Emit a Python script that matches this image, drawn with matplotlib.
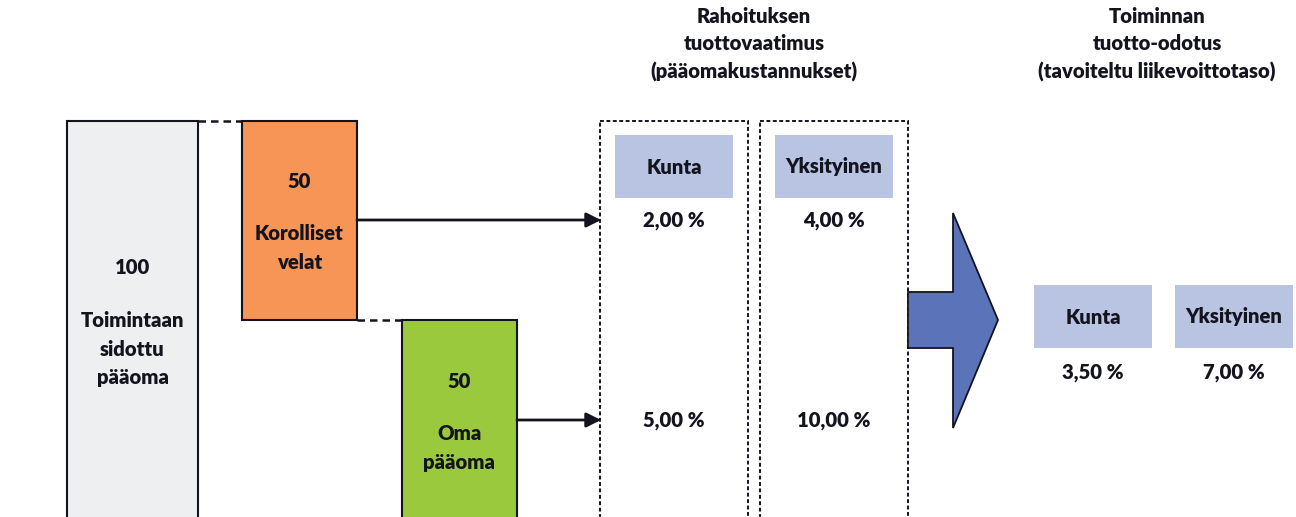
import matplotlib.pyplot as plt
from matplotlib.patches import Rectangle, Polygon

# data
categories = ["Kunta", "Yksityinen"]
debt_cost = [2.00, 4.00]          # korolliset velat
equity_cost = [5.00, 10.00]       # oma pääoma
target_return = [3.50, 7.00]      # tavoiteltu liikevoittotaso
capital_total = 100
capital_debt = 50
capital_equity = 50

plt.rcParams['font.family'] = ['Lato', 'DejaVu Sans']
TXT = '#14141f'
FS = 14.6


def pct(v):
    return f"{v:.2f}".replace(".", ",") + " %"


fig = plt.figure(figsize=(12.96, 5.17), dpi=100)
ax = fig.add_axes([0, 0, 1, 1])
ax.set_xlim(0, 1296)
ax.set_ylim(517, 0)
ax.axis('off')

scale = 3.98   # px per capital unit
top = 121

# capital bars
ax.bar(132.5, capital_total * scale, width=131, bottom=top, color='#eeeff1',
       edgecolor='#14141f', linewidth=1.5)
ax.bar(299.5, capital_debt * scale, width=115, bottom=top, color='#f79557',
       edgecolor='#14141f', linewidth=1.5)
eq_top = top + capital_debt * scale
ax.bar(459.5, capital_equity * scale, width=115, bottom=eq_top, color='#9bc93e',
       edgecolor='#14141f', linewidth=1.5)

kw = dict(ha='center', va='center', fontsize=FS, fontweight='heavy', color=TXT,
          linespacing=1.6)
ax.text(132.5, 267, str(capital_total), **kw)
ax.text(132.5, 349, "Toimintaan\nsidottu\npääoma", **kw)
ax.text(299.5, 182, str(capital_debt), **kw)
ax.text(299.5, 248, "Korolliset\nvelat", **kw)
ax.text(459.5, 381, str(capital_equity), **kw)
ax.text(459.5, 448, "Oma\npääoma", **kw)

# dashed connectors
ax.plot([198, 242], [top, top], color=TXT, lw=1.8, ls=(0, (3, 2)))
ax.plot([357, 402], [eq_top, eq_top], color=TXT, lw=1.8, ls=(0, (3, 2)))

# arrows to the cost columns
for y0, x0 in [(220, 357), (420, 517)]:
    ax.annotate('', xy=(601, y0), xytext=(x0, y0),
                arrowprops=dict(arrowstyle='-|>', color=TXT, lw=2,
                                mutation_scale=22, shrinkA=0, shrinkB=0))

# dashed cost columns
col_x = [600, 760]
for i, x in enumerate(col_x):
    ax.add_patch(Rectangle((x, 121), 148, 420, fill=False, edgecolor=TXT,
                           lw=1.4, ls=(0, (2, 1.3))))
    ax.add_patch(Rectangle((x + 15, 135), 118, 63, facecolor='#b9c4e2',
                           edgecolor='none'))
    cx = x + 74
    ax.text(cx, 167, categories[i], **kw)
    ax.text(cx, 221, pct(debt_cost[i]), **kw)
    ax.text(cx, 420, pct(equity_cost[i]), **kw)

# big arrow
ax.add_patch(Polygon([(908, 292), (953, 292), (953, 213), (998, 320),
                      (953, 428), (953, 348), (908, 348)],
                     closed=True, facecolor='#5b73b8', edgecolor=TXT, lw=1.3))

# target columns
tgt_x = [1034, 1175]
for i, x in enumerate(tgt_x):
    ax.add_patch(Rectangle((x, 285), 118, 63, facecolor='#b9c4e2',
                           edgecolor='none'))
    cx = x + 59
    ax.text(cx, 317, categories[i], **kw)
    ax.text(cx, 373, pct(target_return[i]), **kw)

# headers
hkw = dict(kw, linespacing=1.55)
ax.text(754, 44.5, "Rahoituksen\ntuottovaatimus\n(pääomakustannukset)", **hkw)
ax.text(1157, 44.5, "Toiminnan\ntuotto-odotus\n(tavoiteltu liikevoittotaso)", **hkw)

fig.savefig('out.png', dpi=100)
